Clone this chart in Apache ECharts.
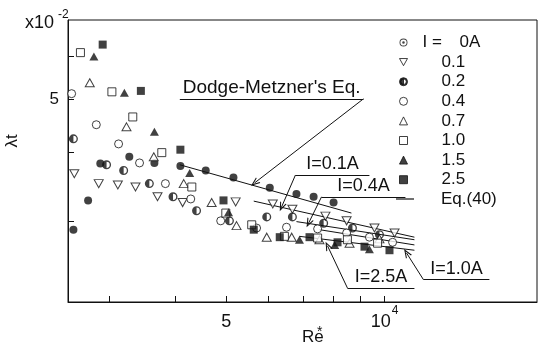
<!DOCTYPE html>
<html>
<head>
<meta charset="utf-8">
<script src="https://cdn.jsdelivr.net/npm/echarts@6/dist/echarts.min.js"></script>
<style>
  html, body { margin: 0; padding: 0; background: #fff; }
  #c { width: 539px; height: 349px; }
</style>
</head>
<body>
<div id="c"></div>
<script>
// Friction factor λt (×10^-2) against generalized Reynolds number Re*, one series per coil current I.

// I = 0 A
const re0A  = [2560, 2730, 2880, 3270, 3650, 4090, 4570, 5160, 6050, 6800, 7330, 8000];
const lam0A = [2.89, 3.27, 3.82, 3.93, 3.83, 3.78, 3.71, 3.60, 3.45, 3.36, 3.32, 3.24];
// I = 0.1 A
const re01  = [2570, 2860, 3110, 3360, 3700, 4130, 5210, 6130, 6680, 7720, 8470, 9570, 10450];
const lam01 = [3.66, 3.51, 3.49, 3.46, 3.32, 3.24, 3.25, 3.22, 3.15, 3.06, 3.00, 2.91, 2.85];
// I = 0.2 A
const re02  = [2560, 2960, 3190, 3570, 3960, 4390, 5070, 5970, 6680, 7660, 8690, 9780];
const lam02 = [4.24, 3.80, 3.71, 3.51, 3.32, 3.13, 3.00, 3.05, 3.05, 2.97, 2.91, 2.83];
// I = 0.4 A
const re04  = [2540, 2830, 3120, 3420, 3830, 4280, 4880, 5710, 6510, 7460, 8470, 9360, 10360];
const lam04 = [5.13, 4.50, 4.15, 3.83, 3.51, 3.29, 3.00, 2.91, 2.92, 2.90, 2.85, 2.80, 2.74];
// I = 0.7 A
const re07  = [2750, 3230, 3640, 4150, 4690, 5230, 5970, 6660, 7520, 8580, 9780];
const lam07 = [5.37, 4.46, 3.93, 3.51, 3.24, 2.94, 2.80, 2.80, 2.77, 2.73, 2.78];
// I = 1.0 A
const re10  = [2640, 3030, 3320, 3770, 4300, 4990, 5590, 6450, 7460, 8500, 9700];
const lam10 = [6.10, 5.17, 4.65, 4.00, 3.46, 3.10, 2.95, 2.81, 2.79, 2.77, 2.73];
// I = 1.5 A
const re15  = [2800, 3200, 3650, 4260, 5050, 6890, 8040, 9360];
const lam15 = [6.00, 5.15, 4.37, 3.67, 3.11, 2.77, 2.71, 2.66];
// I = 2.5 A
const re25  = [2910, 3440, 4090, 4940, 5640, 6320, 7200, 8140, 9160, 10220];
const lam25 = [6.31, 5.19, 4.05, 3.27, 2.89, 2.80, 2.80, 2.74, 2.69, 2.65];

// Correlation lines (end points)
const dmRe  = [4080, 8650];   const dmLam  = [3.80, 3.10];   // Dodge-Metzner
const eq01Re = [5640, 11400]; const eq01Lam = [3.26, 2.80];  // Eq.(40), I = 0.1 A
const eq04Re = [6800, 11400]; const eq04Lam = [2.99, 2.77];  // Eq.(40), I = 0.4 A
const eq10Re = [7520, 11400]; const eq10Lam = [2.89, 2.71];  // Eq.(40), I = 1.0 A
const eq25Re = [6890, 11400]; const eq25Lam = [2.81, 2.65];  // Eq.(40), I = 2.5 A

// Axis ticks and labelled values
const xTicks  = [3000, 4000, 5000, 6000, 7000, 8000, 9000, 10000];
const xLabels = [5000, 10000];
const yTicks  = [3, 4, 5, 6];
const yLabels = [5];

const FONT = '"Liberation Sans", "DejaVu Sans", sans-serif';
const INK = '#111';

// Marker shapes
const DOT_RING  = 'path://M10,0A10,10 0 1,1 10,20A10,10 0 1,1 10,0Z M10,2.2A7.8,7.8 0 1,0 10,17.8A7.8,7.8 0 1,0 10,2.2Z M10,6.8A3.2,3.2 0 1,1 10,13.2A3.2,3.2 0 1,1 10,6.8Z';
const HALF      = 'path://M10,0A10,10 0 1,1 10,20A10,10 0 1,1 10,0Z M10,3A7,7 0 1,0 10,17A7,7 0 1,0 10,3Z M10,3A7,7 0 0,0 10,17Z';
const TRI_DOWN  = 'path://M0,0L10,0L5,8.9Z';
const ARROW     = 'path://M5,0L10,10L8.4,10L5,3.2L1.6,10L0,10Z';
const DASH      = 'path://M0,0L18,0L18,1.2L0,1.2Z';

const pts = (re, lam) => re.map((r, i) => [r, lam[i]]);

const openStyle = { color: '#fff', borderColor: INK, borderWidth: 1 };
const fillStyle = { color: INK, borderColor: INK, borderWidth: 0 };

function scatter(name, data, symbol, size, style) {
  return { name, type: 'scatter', data, symbol, symbolSize: size, itemStyle: style, silent: true, z: 3 };
}

function eqLine(name, re, lam, extra) {
  return Object.assign({
    name, type: 'line', data: pts(re, lam), symbol: 'none', silent: true,
    color: INK, lineStyle: { color: INK, width: 1 }, z: 2
  }, extra || {});
}

// Callout: underlined caption with a leader ending in an arrow
function callout(text, x1, x2, yU, xFrom, xTip, yTip, size) {
  return [
    [{ coord: [x1, yU], symbol: 'none',
       label: { show: true, formatter: text, position: 'insideMiddleTop', distance: 2,
                fontFamily: FONT, fontSize: size, color: INK } },
     { coord: [x2, yU], symbol: 'none' }],
    [{ coord: [xFrom, yU], symbol: 'none', label: { show: false } },
     { coord: [xTip, yTip], symbol: ARROW, symbolSize: [7, 9] }]
  ];
}

const marks = [].concat(
  callout("Dodge-Metzner's Eq.", 4080, 9120, 5.02, 9120, 5660, 3.52, 19),
  callout('I=0.1A', 6770, 9360, 3.64, 6770, 6370, 3.18, 18),
  callout('I=0.4A', 7590, 10960, 3.32, 7590, 7170, 2.97, 18),
  callout('I=2.5A', 8500, 11400, 2.26, 8500, 7790, 2.70, 18),
  callout('I=1.0A', 11860, 15830, 2.34, 11860, 11010, 2.62, 18)
);

const markerNames = ['0A', '0.1', '0.2', '0.4', '0.7', '1.0', '1.5', '2.5'];
const lineName = 'Eq.(40)';

const chart = echarts.init(document.getElementById('c'));
chart.setOption({
  animation: false,
  backgroundColor: '#fff',
  grid: { left: 68, top: 20, right: 2, bottom: 47, show: true, borderColor: INK, borderWidth: 1 },
  xAxis: {
    type: 'log', logBase: 10, min: 2500, max: 19500,
    axisLine: { lineStyle: { color: INK, width: 1 } },
    axisTick: { inside: true, length: 6, customValues: xTicks, lineStyle: { color: INK } },
    axisLabel: {
      customValues: xLabels, margin: 3, color: INK, fontFamily: FONT,
      formatter: v => Math.round(v) === 10000 ? '{b|10}{s|4}' : '{b|' + Math.round(v / 1000) + '}',
      rich: {
        b: { fontFamily: FONT, fontSize: 18, color: INK, lineHeight: 26, verticalAlign: 'bottom' },
        s: { fontFamily: FONT, fontSize: 12, color: INK, lineHeight: 12, verticalAlign: 'top', padding: [0, 0, 0, 1] }
      }
    },
    splitLine: { show: false }, minorTick: { show: false }
  },
  yAxis: {
    type: 'log', logBase: 10, min: 2.13, max: 7.0,
    axisLine: { lineStyle: { color: INK, width: 1 } },
    axisTick: { inside: true, length: 6, customValues: yTicks, lineStyle: { color: INK } },
    axisLabel: {
      customValues: yLabels, margin: 9, color: INK, fontFamily: FONT, fontSize: 17,
      formatter: v => String(Math.round(v))
    },
    splitLine: { show: false }, minorTick: { show: false }
  },
  legend: [
    {
      orient: 'vertical', left: 399, top: 33.5, padding: 0,
      itemWidth: 8, itemHeight: 8, itemGap: 1.6,
      selectedMode: false,
      itemStyle: { borderWidth: 1 },
      data: markerNames.map(n => n === '0A' ? { name: n, icon: DOT_RING, itemStyle: { borderWidth: 0 } } : { name: n }),
      formatter: n => n === '0A' ? '{p|\u00a0}{i|I =}{v|0A}' : '{q|\u00a0}{v|' + n + '}',
      textStyle: {
        fontFamily: FONT, fontSize: 17, color: INK, lineHeight: 18,
        rich: {
          p: { width: 10, lineHeight: 18 },
          i: { width: 37, fontFamily: FONT, fontSize: 17, color: INK, lineHeight: 18 },
          q: { width: 29, lineHeight: 18 },
          v: { fontFamily: FONT, fontSize: 17, color: INK, lineHeight: 18 }
        }
      }
    },
    {
      orient: 'vertical', left: 396, top: 190, padding: 0,
      itemWidth: 18, itemHeight: 8,
      selectedMode: false,
      data: [{ name: lineName, icon: DASH }],
      textStyle: { fontFamily: FONT, fontSize: 17, color: INK, lineHeight: 18, padding: [0, 0, 0, 22] }
    }
  ],
  graphic: [
    { type: 'text', x: 25, y: 23, style: { text: 'x10', font: '18px ' + FONT, fill: INK, verticalAlign: 'middle' } },
    { type: 'text', x: 58, y: 15, style: { text: '-2', font: '12px ' + FONT, fill: INK, verticalAlign: 'middle' } },
    { type: 'text', x: 12.5, y: 141, rotation: Math.PI / 2,
      style: { text: 'λt', font: '17px ' + FONT, fill: INK, align: 'center', verticalAlign: 'middle' } },
    { type: 'text', x: 302, y: 337, style: { text: 'Re', font: '17px ' + FONT, fill: INK, verticalAlign: 'middle' } },
    { type: 'text', x: 317, y: 332, style: { text: '*', font: '14px ' + FONT, fill: INK, verticalAlign: 'middle' } }
  ],
  series: [
    scatter('0A',  pts(re0A, lam0A), 'circle', 8, fillStyle),
    scatter('0.1', pts(re01, lam01), TRI_DOWN, [9, 8], openStyle),
    scatter('0.2', pts(re02, lam02), HALF, 9, fillStyle),
    scatter('0.4', pts(re04, lam04), 'circle', 8, openStyle),
    scatter('0.7', pts(re07, lam07), 'triangle', [9, 8], openStyle),
    scatter('1.0', pts(re10, lam10), 'rect', 8, openStyle),
    scatter('1.5', pts(re15, lam15), 'triangle', [9, 8], fillStyle),
    scatter('2.5', pts(re25, lam25), 'rect', 8, fillStyle),
    eqLine('Dodge-Metzner', dmRe, dmLam, {
      markLine: {
        silent: true, animation: false, symbol: ['none', 'none'],
        lineStyle: { color: INK, width: 1, type: 'solid' },
        label: { show: false },
        data: marks
      }
    }),
    eqLine(lineName, eq01Re, eq01Lam),
    eqLine(lineName, eq04Re, eq04Lam),
    eqLine(lineName, eq10Re, eq10Lam),
    eqLine(lineName, eq25Re, eq25Lam)
  ]
});
</script>
</body>
</html>
